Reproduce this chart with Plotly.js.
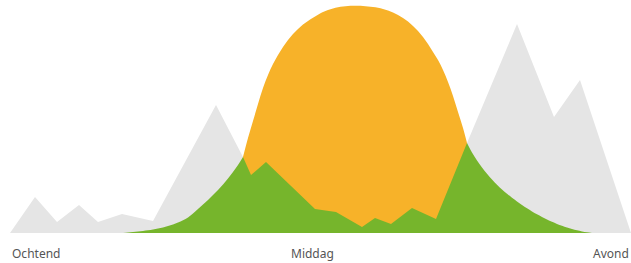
<!DOCTYPE html>
<html>
<head>
<meta charset="utf-8">
<script src="https://cdn.plot.ly/plotly-3.0.1.min.js"></script>
<style>html,body{margin:0;padding:0;background:#fff;}#chart{width:631px;height:263px;}</style>
</head>
<body>
<div id="chart"></div>
<script>
// Grey mountain range (x position, height)
const mountainX = [10, 35, 57, 79, 98, 122, 153, 216, 243, 251, 266, 315, 336, 362, 375, 391, 412, 436, 467, 517, 554, 580, 631];
const mountainY = [0, 36, 11, 28, 11, 19, 12, 128, 76, 58, 71, 24, 21, 6, 15, 9, 25, 14, 90, 209, 116, 153, 0];

// Sun curve, split where it crosses the mountains
const sunLeftX = [123, 128, 133, 138, 143, 148, 153, 158, 163, 168, 173, 178, 183, 188, 193, 198, 203, 208, 213, 218, 223, 228, 233, 238, 243];
const sunLeftY = [0, 0.4, 0.9, 1.5, 2.1, 2.8, 3.6, 4.5, 5.6, 7, 8.6, 10.5, 12.8, 15.5, 19.5, 24, 28.5, 33, 38, 43, 48.5, 54.5, 61, 68, 76];
const sunMidX = [243, 248, 253, 258, 263, 268, 273, 278, 283, 288, 293, 298, 303, 308, 313, 318, 323, 328, 333, 338, 343, 348, 353, 358, 363, 368, 373, 378, 383, 388, 393, 398, 403, 408, 413, 418, 423, 428, 433, 438, 443, 448, 453, 458, 463, 467];
const sunMidY = [76, 95, 112, 129, 145, 158, 169, 178, 186, 193, 199, 204, 208.5, 212, 215.3, 218.3, 221, 223, 224.6, 225.8, 226.6, 227, 227.2, 227.2, 227, 226.6, 226, 225.2, 224, 222.5, 220.5, 218, 215, 211.5, 207, 202, 196, 189, 181, 173, 163, 151, 137, 121, 105, 90];
const sunRightX = [467, 472, 477, 482, 487, 492, 497, 502, 507, 512, 517, 522, 527, 532, 537, 542, 547, 552, 557, 562, 567, 572, 577, 582, 587, 592];
const sunRightY = [90, 80.5, 72.5, 65.5, 59.3, 53.5, 48.3, 43.5, 39.2, 35.2, 31.5, 28, 24.7, 21.6, 18.7, 16, 13.5, 11.2, 9.1, 7.2, 5.5, 4, 2.7, 1.6, 0.7, 0];

// Green (sunlit) part under the mountains, between the crossings
const greenMidX = [243, 251, 266, 315, 336, 362, 375, 391, 412, 436, 467];
const greenMidY = [76, 58, 71, 24, 21, 6, 15, 9, 25, 14, 90];

const labels = ['Ochtend', 'Middag', 'Avond'];
const labelX = [10, 312, 631];
const labelAnchor = ['left', 'center', 'right'];

const GREY = '#e5e5e5', ORANGE = '#f7b229', GREEN = '#76b52c';

function area(x, y, color, shape) {
  return {x: x, y: y, type: 'scatter', mode: 'lines', fill: 'tozeroy',
    fillcolor: color, line: {width: 0, color: color, shape: shape || 'linear', smoothing: 1},
    hoverinfo: 'skip', showlegend: false};
}

const data = [
  area(mountainX, mountainY, GREY),
  area(sunMidX, sunMidY, ORANGE, 'spline'),
  area(sunLeftX, sunLeftY, GREEN, 'spline'),
  area(greenMidX, greenMidY, GREEN),
  area(sunRightX, sunRightY, GREEN, 'spline')
];

const layout = {
  width: 631, height: 263,
  margin: {l: 0, r: 0, t: 0, b: 30, pad: 0},
  paper_bgcolor: '#fff', plot_bgcolor: '#fff',
  showlegend: false,
  xaxis: {range: [0, 631], visible: false, fixedrange: true},
  yaxis: {range: [0, 233], visible: false, fixedrange: true},
  annotations: labels.map((t, i) => ({
    text: t, x: labelX[i], xref: 'x', xanchor: labelAnchor[i],
    y: 0, yref: 'paper', yanchor: 'middle', yshift: -20,
    showarrow: false, font: {family: 'Noto Sans, sans-serif', size: 12, color: '#555'}
  }))
};

Plotly.newPlot('chart', data, layout, {displayModeBar: false, staticPlot: true});
</script>
</body>
</html>
